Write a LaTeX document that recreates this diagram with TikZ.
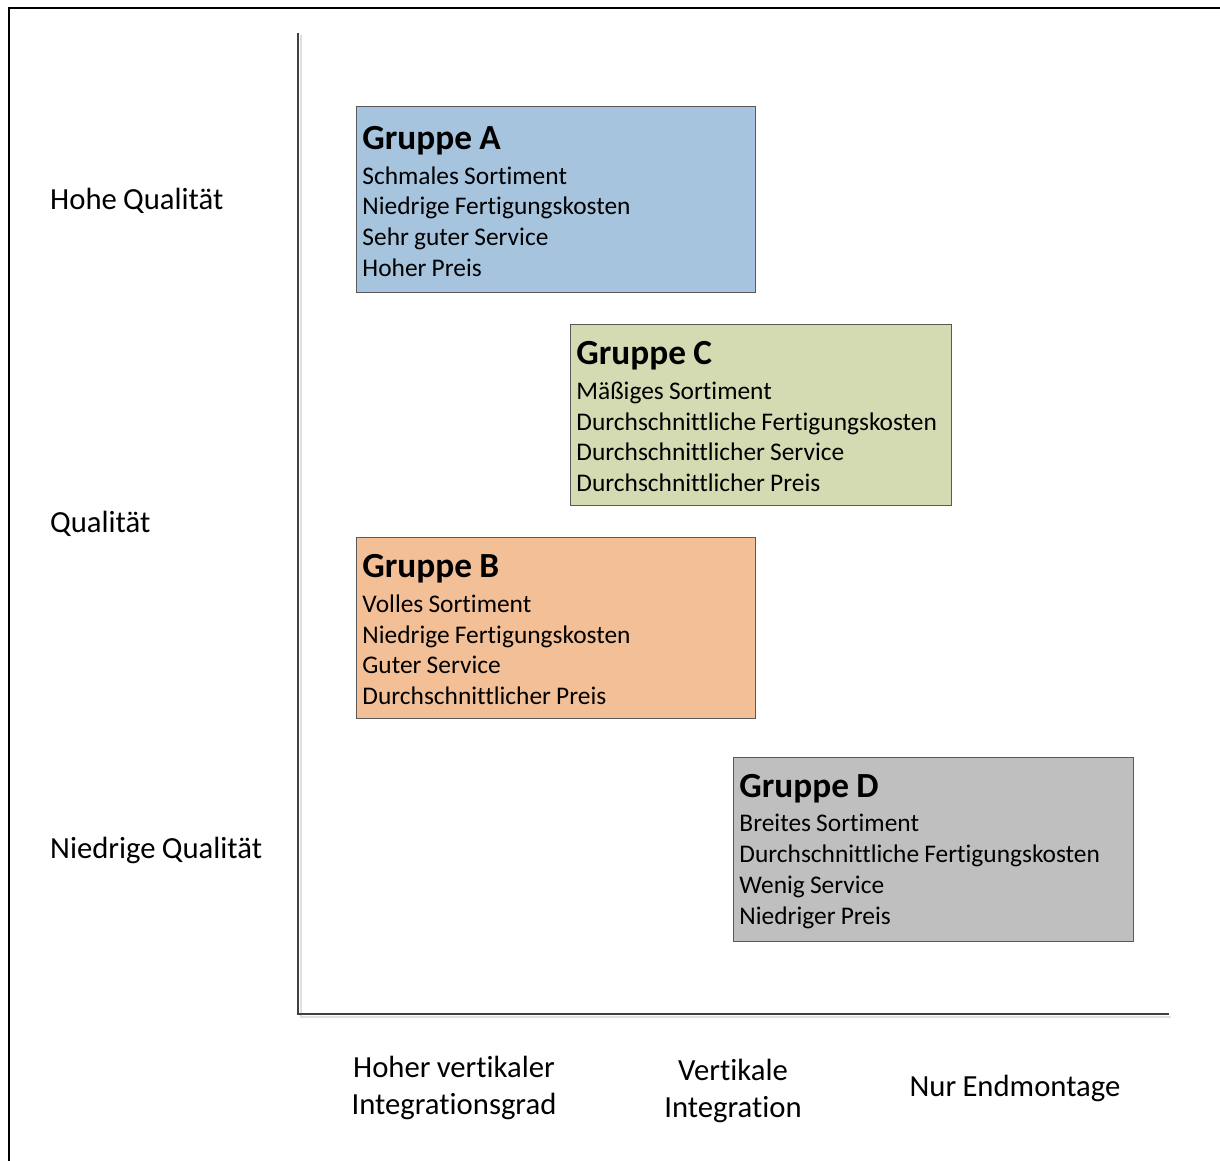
\documentclass[tikz,border=0pt]{standalone}
\usepackage{fontspec}
\setmainfont[Ligatures=CommonOff, WordSpace=0.9]{Carlito}
\usetikzlibrary{calc}
\definecolor{grpA}{HTML}{A7C4DE}
\definecolor{grpB}{HTML}{F3BF97}
\definecolor{grpC}{HTML}{D4DBB3}
\definecolor{grpD}{HTML}{BFBFBF}
\definecolor{edge}{HTML}{595959}
% group heading: a strut above and a little extra room below
\newcommand{\grptitle}[1]{\rule{0pt}{26.7pt}{\fontsize{35.3}{38}\selectfont\bfseries #1}\\[4pt]}
\begin{document}
\begin{tikzpicture}[x=1pt,y=-1pt,
  grp/.style={draw=edge, line width=0.9pt, rectangle, anchor=north west,
    inner xsep=6pt, inner ysep=0pt, align=flush left,
    font=\fontsize{25.4}{30.7}\selectfont},
  lab/.style={font=\fontsize{30.7}{36.5}\selectfont, align=center},
  axis/.style={draw=black!75, line width=1.2pt}]
\useasboundingbox (0,0) rectangle (1220,1160);
% outer frame (runs past the right and bottom edges)
\draw[line width=2.2pt] (9,1175) -- (9,8) -- (1235,8);
% axes
\coordinate (ytop) at (298,33);
\coordinate (orig) at (298,1014);
\coordinate (xend) at (1169,1014);
\draw[black!12, line width=2pt] ($(ytop)+(3,2)$) -- ($(orig)+(3,3)$) -- ($(xend)+(2,3)$);
\draw[axis] (ytop) -- (orig) -- (xend);
% group boxes
\node[grp, fill=grpA, minimum width=399pt, minimum height=186pt, text width=387pt] (A) at (356,106)
  {\grptitle{Gruppe A}Schmales Sortiment\\Niedrige Fertigungskosten\\Sehr guter Service\\Hoher Preis};
\node[grp, fill=grpC, minimum width=381pt, minimum height=181pt, text width=369pt] (C) at (570,324)
  {\grptitle{Gruppe C}Mäßiges Sortiment\\Durchschnittliche Fertigungskosten\\Durchschnittlicher Service\\Durchschnittlicher Preis};
\node[grp, fill=grpB, minimum width=399pt, minimum height=181pt, text width=387pt] (B) at (356,537)
  {\grptitle{Gruppe B}Volles Sortiment\\Niedrige Fertigungskosten\\Guter Service\\Durchschnittlicher Preis};
\node[grp, fill=grpD, minimum width=400pt, minimum height=184pt, text width=388pt] (D) at (733,757)
  {\grptitle{Gruppe D}Breites Sortiment\\Durchschnittliche Fertigungskosten\\Wenig Service\\Niedriger Preis};
% quality labels
\node[lab, anchor=west, inner sep=0pt] (q1) at (50,201) {Hohe Qualität};
\node[lab, anchor=west, inner sep=0pt] (q2) at (50,524) {Qualität};
\node[lab, anchor=west, inner sep=0pt] (q3) at (50,850) {Niedrige Qualität};
% integration labels
\node[lab] (i1) at (454,1088) {Hoher vertikaler\\Integrationsgrad};
\node[lab] (i2) at (733,1091) {Vertikale\\Integration};
\node[lab] (i3) at (1015,1088) {Nur Endmontage};
\end{tikzpicture}
\end{document}
